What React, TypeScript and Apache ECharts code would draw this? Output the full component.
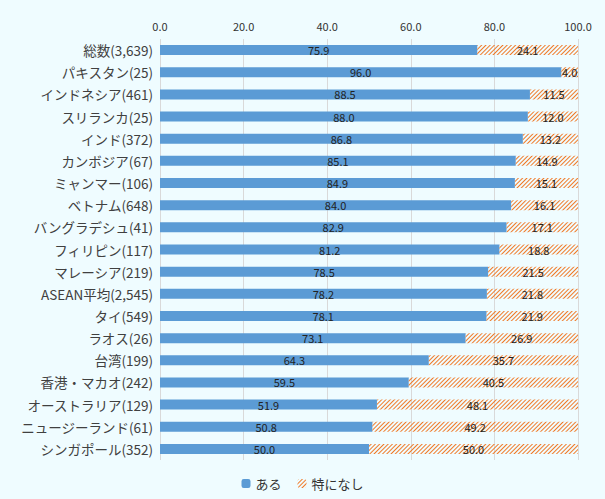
import React, { useEffect, useRef } from "react";
import * as echarts from "echarts";

const categories = [
  "総数(3,639)", "パキスタン(25)", "インドネシア(461)", "スリランカ(25)", "インド(372)",
  "カンボジア(67)", "ミャンマー(106)", "ベトナム(648)", "バングラデシュ(41)", "フィリピン(117)",
  "マレーシア(219)", "ASEAN平均(2,545)", "タイ(549)", "ラオス(26)", "台湾(199)",
  "香港・マカオ(242)", "オーストラリア(129)", "ニュージーランド(61)", "シンガポール(352)",
];
const aru = [75.9, 96.0, 88.5, 88.0, 86.8, 85.1, 84.9, 84.0, 82.9, 81.2, 78.5, 78.2, 78.1, 73.1, 64.3, 59.5, 51.9, 50.8, 50.0];
const nashi = [24.1, 4.0, 11.5, 12.0, 13.2, 14.9, 15.1, 16.1, 17.1, 18.8, 21.5, 21.8, 21.9, 26.9, 35.7, 40.5, 48.1, 49.2, 50.0];
const seriesNames = ["ある", "特になし"];

const FONT = "'Noto Sans CJK JP', 'Noto Sans', sans-serif";

export default function App() {
  const ref = useRef<HTMLDivElement>(null);
  useEffect(() => {
    const chart = echarts.init(ref.current!, null, { renderer: "svg" });
    chart.setOption({
      animation: false,
      backgroundColor: "#EFFCFF",
      textStyle: { fontFamily: FONT },
      grid: { left: 160, right: 27, top: 39, bottom: 39 },
      legend: {
        bottom: 4,
        left: "center",
        itemWidth: 9,
        itemHeight: 9,
        itemGap: 16,
        textStyle: { fontSize: 13, color: "#333", fontFamily: FONT },
        data: seriesNames,
      },
      xAxis: {
        type: "value",
        position: "top",
        min: 0,
        max: 100,
        interval: 20,
        axisLine: { show: false },
        axisTick: { show: false },
        axisLabel: { formatter: (v: number) => v.toFixed(1), fontSize: 11, color: "#333", margin: 8 },
        splitLine: { lineStyle: { color: "#D9D9D9" } },
      },
      yAxis: {
        type: "category",
        data: categories,
        inverse: true,
        axisLine: { show: false },
        axisTick: { show: false },
        axisLabel: { fontSize: 13.5, color: "#404040", margin: 7 },
      },
      series: [
        {
          name: seriesNames[0],
          type: "bar",
          stack: "t",
          data: aru,
          barWidth: 10,
          itemStyle: { color: "#5B9BD5" },
          label: { show: true, position: "inside", formatter: (p: any) => p.value.toFixed(1), fontSize: 11, color: "#222" },
        },
        {
          name: seriesNames[1],
          type: "bar",
          stack: "t",
          data: nashi,
          barWidth: 10,
          itemStyle: {
            color: "rgba(255,255,255,0)",
            decal: {
              symbol: "rect",
              symbolSize: 1,
              color: "#F07A28",
              dashArrayX: [1, 0],
              dashArrayY: [1, 2],
              rotation: -Math.PI / 4,
            },
          },
          label: { show: true, position: "inside", formatter: (p: any) => p.value.toFixed(1), fontSize: 11, color: "#222" },
        },
      ],
    });
    return () => chart.dispose();
  }, []);
  return <div ref={ref} style={{ width: 605, height: 499, position: "absolute", left: 0, top: 0 }} />;
}
